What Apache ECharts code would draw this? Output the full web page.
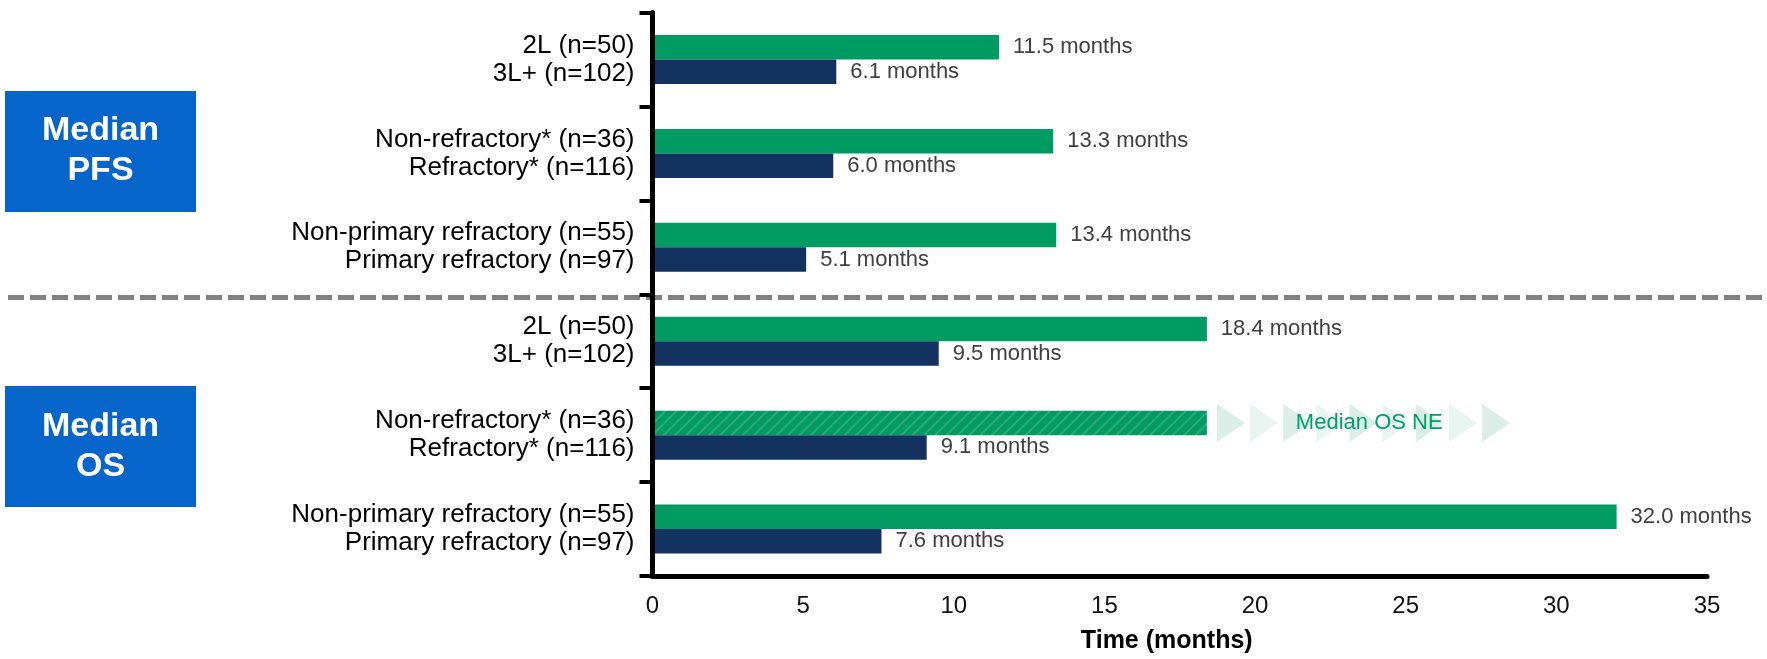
<!DOCTYPE html>
<html>
<head>
<meta charset="utf-8">
<script src="https://cdn.jsdelivr.net/npm/echarts@6/dist/echarts.min.js"></script>
<style>
  html, body { margin: 0; padding: 0; background: #ffffff; }
  #chart { width: 1767px; height: 659px; }
</style>
</head>
<body>
<div id="chart"></div>
<script>
// Subgroup labels: upper (green) and lower (navy) bar of each pair
const upperLabels = [
  '2L (n=50)', 'Non-refractory* (n=36)', 'Non-primary refractory (n=55)',
  '2L (n=50)', 'Non-refractory* (n=36)', 'Non-primary refractory (n=55)'
];
const lowerLabels = [
  '3L+ (n=102)', 'Refractory* (n=116)', 'Primary refractory (n=97)',
  '3L+ (n=102)', 'Refractory* (n=116)', 'Primary refractory (n=97)'
];
const groupKeys = ['PFS-line', 'PFS-refractory', 'PFS-primary', 'OS-line', 'OS-refractory', 'OS-primary'];

// Median time in months
const upperMonths = [11.5, 13.3, 13.4, 18.4, 18.4, 32.0];
const lowerMonths = [6.1, 6.0, 5.1, 9.5, 9.1, 7.6];

// Median OS not estimable for the non-refractory group: bar runs to follow-up, hatched
const notEstimableIndex = 4;
const notEstimableText = 'Median OS NE';
const continuationArrows = [19.2, 20.3, 21.4, 22.5, 23.6, 24.7, 25.8, 26.9, 28.0];

const xMin = 0, xMax = 35, xStep = 5;
const xTitle = 'Time (months)';
const sectionTitles = ['Median\nPFS', 'Median\nOS'];

const FONT = '"Liberation Sans", Arial, Helvetica, sans-serif';
const GREEN = '#009A63';
const NAVY = '#14325F';

const grid = { left: 652.5, right: 60, top: 12.5, bottom: 76.5 };
const plotH = 659 - grid.top - grid.bottom;
const band = plotH / groupKeys.length;
const separatorY = grid.top + band * 3;

const chart = echarts.init(document.getElementById('chart'), null, { renderer: 'canvas' });

const monthsLabel = {
  show: true,
  position: 'right',
  distance: 14,
  fontSize: 22,
  fontFamily: FONT,
  color: '#404040',
  formatter: p => p.value.toFixed(1) + ' months'
};

chart.setOption({
  animation: false,
  backgroundColor: '#ffffff',
  grid: grid,
  xAxis: {
    type: 'value',
    min: xMin,
    max: xMax,
    interval: xStep,
    axisLine: { show: true, lineStyle: { color: '#000', width: 5 } },
    axisTick: { show: false },
    splitLine: { show: false },
    axisLabel: { fontSize: 24, fontFamily: FONT, color: '#111', margin: 18 },
    name: xTitle,
    nameLocation: 'middle',
    nameGap: 53,
    nameTextStyle: {
      fontSize: 25, fontWeight: 'bold', fontFamily: FONT, color: '#000',
      padding: [0, 26, 0, 0]
    },
    z: 5
  },
  yAxis: {
    type: 'category',
    inverse: true,
    data: groupKeys,
    axisLine: { show: true, lineStyle: { color: '#000', width: 5 } },
    axisTick: { show: true, length: 13, lineStyle: { color: '#000', width: 4 } },
    axisLabel: {
      fontSize: 26,
      lineHeight: 28,
      fontFamily: FONT,
      color: '#000',
      margin: 18,
      formatter: (v, i) => upperLabels[i] + '\n' + lowerLabels[i]
    },
    z: 5
  },
  graphic: [
    {
      type: 'line',
      z: 1,
      shape: { x1: 8, y1: separatorY, x2: 1767, y2: separatorY },
      style: { stroke: '#808080', lineWidth: 5, lineDash: [16, 6] }
    },
    {
      type: 'rect', z: 1,
      shape: { x: 5, y: 91, width: 191, height: 121 },
      style: { fill: '#0565CA' }
    },
    {
      type: 'text', z: 2, x: 100.5, y: 151,
      style: {
        text: sectionTitles[0], fill: '#ffffff', fontSize: 34, fontWeight: 'bold',
        fontFamily: FONT, align: 'center', verticalAlign: 'middle', lineHeight: 40
      }
    },
    {
      type: 'rect', z: 1,
      shape: { x: 5, y: 386, width: 191, height: 121 },
      style: { fill: '#0565CA' }
    },
    {
      type: 'text', z: 2, x: 100.5, y: 447,
      style: {
        text: sectionTitles[1], fill: '#ffffff', fontSize: 34, fontWeight: 'bold',
        fontFamily: FONT, align: 'center', verticalAlign: 'middle', lineHeight: 40
      }
    }
  ],
  series: [
    {
      name: 'upper',
      type: 'bar',
      barWidth: 24.5,
      barGap: '0%',
      z: 3,
      itemStyle: { color: GREEN },
      label: monthsLabel,
      data: upperMonths.map((v, i) => i === notEstimableIndex ? {
        value: v,
        itemStyle: {
          color: GREEN,
          decal: {
            symbol: 'rect',
            symbolSize: 1,
            dashArrayX: [1, 0],
            dashArrayY: [2, 6],
            rotation: -Math.PI / 4,
            color: 'rgba(255,255,255,0.16)'
          }
        },
        label: {
          show: true,
          position: 'right',
          distance: 89,
          fontSize: 22,
          fontFamily: FONT,
          color: '#00A06A',
          formatter: notEstimableText
        }
      } : v)
    },
    {
      name: 'lower',
      type: 'bar',
      barWidth: 24.5,
      barGap: '0%',
      z: 3,
      itemStyle: { color: NAVY },
      label: monthsLabel,
      data: lowerMonths
    },
    {
      name: 'continuation',
      type: 'scatter',
      silent: true,
      z: 2,
      symbol: 'triangle',
      symbolRotate: -90,
      symbolSize: [38, 28],
      symbolOffset: [0, -12.25],
      data: continuationArrows.map((m, k) => ({
        value: [m, notEstimableIndex],
        itemStyle: { color: k % 2 === 0 ? '#D3EAE2' : '#E4F3ED' }
      }))
    }
  ]
});
</script>
</body>
</html>
